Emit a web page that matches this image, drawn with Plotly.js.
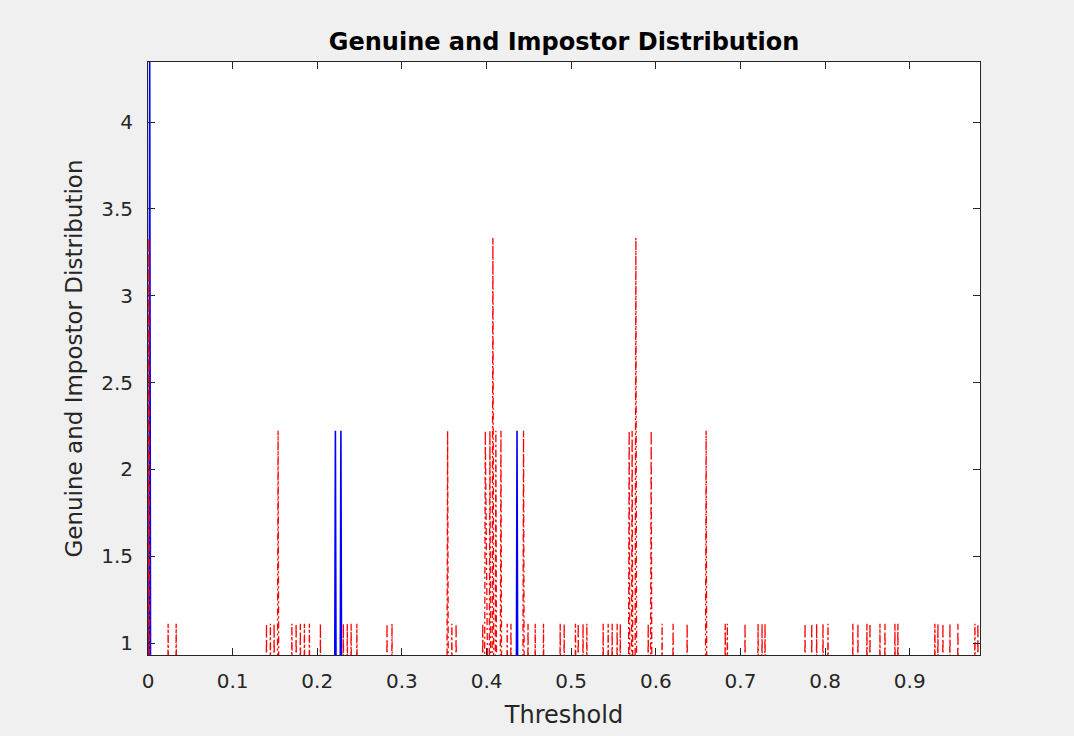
<!DOCTYPE html>
<html>
<head>
<meta charset="utf-8">
<script src="https://cdn.plot.ly/plotly-3.0.1.min.js"></script>
<style>
  html, body { margin: 0; padding: 0; background: #f0f0f0; }
  #chart { width: 1074px; height: 736px; }
</style>
</head>
<body>
<div id="chart"></div>
<script>
// Genuine distribution spikes (threshold, value)
const genuineX = [0.002, 0.2214, 0.2279, 0.436];
const genuineY = [4.444, 2.222, 2.222, 2.222];

// Impostor distribution spikes (threshold, value)
const impostorX = [
  0.001, 0.0238, 0.0333, 0.140, 0.1446, 0.149, 0.1537, 0.170, 0.175, 0.180,
  0.1848, 0.1907, 0.2037, 0.2308, 0.2355, 0.240, 0.2468, 0.2824, 0.2883, 0.354,
  0.359, 0.364, 0.3955, 0.3985, 0.404, 0.4075, 0.411, 0.417, 0.4244, 0.4288,
  0.4437, 0.449, 0.4575, 0.4673, 0.487, 0.4917, 0.505, 0.5083, 0.514, 0.5185,
  0.5378, 0.5437, 0.5484, 0.5543, 0.558, 0.5685, 0.572, 0.5764, 0.591, 0.5945,
  0.6074, 0.6204, 0.637, 0.6594, 0.682, 0.6845, 0.7054, 0.7208, 0.7255, 0.729,
  0.7763, 0.7842, 0.790, 0.7975, 0.8034, 0.8328, 0.8388, 0.8494, 0.853, 0.8648,
  0.8707, 0.8825, 0.886, 0.9297, 0.9333, 0.9392, 0.9475, 0.9569, 0.977, 0.9805
];
const impostorY = [
  3.333, 1.111, 1.111, 1.111, 1.111, 1.111, 2.222, 1.111, 1.111, 1.111,
  1.111, 1.111, 1.111, 1.111, 1.111, 1.111, 1.111, 1.111, 1.111, 2.222,
  1.111, 1.111, 1.111, 2.222, 2.222, 3.333, 2.222, 2.222, 1.111, 1.111,
  2.222, 1.111, 1.111, 1.111, 1.111, 1.111, 1.111, 1.111, 1.111, 1.111,
  1.111, 1.111, 1.111, 1.111, 1.111, 2.222, 2.222, 3.333, 1.111, 2.222,
  1.111, 1.111, 1.111, 2.222, 1.111, 1.111, 1.111, 1.111, 1.111, 1.111,
  1.111, 1.111, 1.111, 1.111, 1.111, 1.111, 1.111, 1.111, 1.111, 1.111,
  1.111, 1.111, 1.111, 1.111, 1.111, 1.111, 1.111, 1.111, 1.111, 1.111
];

const xTicks = [0, 0.1, 0.2, 0.3, 0.4, 0.5, 0.6, 0.7, 0.8, 0.9];
const xTickText = ['0', '0.1', '0.2', '0.3', '0.4', '0.5', '0.6', '0.7', '0.8', '0.9'];
const yTicks = [1, 1.5, 2, 2.5, 3, 3.5, 4];
const yTickText = ['1', '1.5', '2', '2.5', '3', '3.5', '4'];

// build spike polyline (up from zero and back down) from the spike lists
function spikeLine(xs, ys, half) {
  const X = [], Y = [];
  xs.forEach((x, i) => {
    X.push(x - half, x, x + half);
    Y.push(0, ys[i], 0);
  });
  return { X, Y };
}
const g = spikeLine(genuineX, genuineY, 0.0012);
const im = spikeLine(impostorX, impostorY, 0.0012);

const axisColor = '#262626';
const font = 'DejaVu Sans, Liberation Sans, Arial, sans-serif';

const data = [
  { x: g.X, y: g.Y, type: 'scatter', mode: 'lines', name: 'Genuine',
    line: { color: '#0000ff', width: 1.6 } },
  { x: im.X, y: im.Y, type: 'scatter', mode: 'lines', name: 'Impostor',
    line: { color: '#ff0000', width: 1.3, dash: '7px,3px,2px,3px' } }
];

const layout = {
  width: 1074, height: 736,
  paper_bgcolor: '#f0f0f0', plot_bgcolor: '#ffffff',
  margin: { l: 148, r: 94, t: 62, b: 81 },
  showlegend: false,
  title: {
    text: 'Genuine and Impostor Distribution',
    font: { family: font, size: 24, color: '#000000', weight: 'bold' },
    xref: 'paper', x: 0.5, xanchor: 'center',
    yref: 'container', y: 1 - 42 / 736, yanchor: 'middle'
  },
  xaxis: {
    range: [0, 0.983], tickvals: xTicks, ticktext: xTickText,
    showgrid: false, zeroline: false,
    showline: true, mirror: 'ticks', linecolor: axisColor, linewidth: 1,
    ticks: 'inside', ticklen: 7, tickcolor: axisColor, tickwidth: 1,
    tickfont: { family: font, size: 20, color: axisColor },
    ticklabelstandoff: 8,
    title: { text: 'Threshold', font: { family: font, size: 24, color: axisColor }, standoff: 14 }
  },
  yaxis: {
    range: [0.931, 4.346], tickvals: yTicks, ticktext: yTickText,
    showgrid: false, zeroline: false,
    showline: true, mirror: 'ticks', linecolor: axisColor, linewidth: 1,
    ticks: 'inside', ticklen: 7, tickcolor: axisColor, tickwidth: 1,
    tickfont: { family: font, size: 20, color: axisColor },
    ticklabelstandoff: 10,
    title: { text: 'Genuine and Impostor Distribution', font: { family: font, size: 23, color: axisColor }, standoff: 12 }
  }
};

Plotly.newPlot('chart', data, layout, { displayModeBar: false, staticPlot: true });
</script>
</body>
</html>
